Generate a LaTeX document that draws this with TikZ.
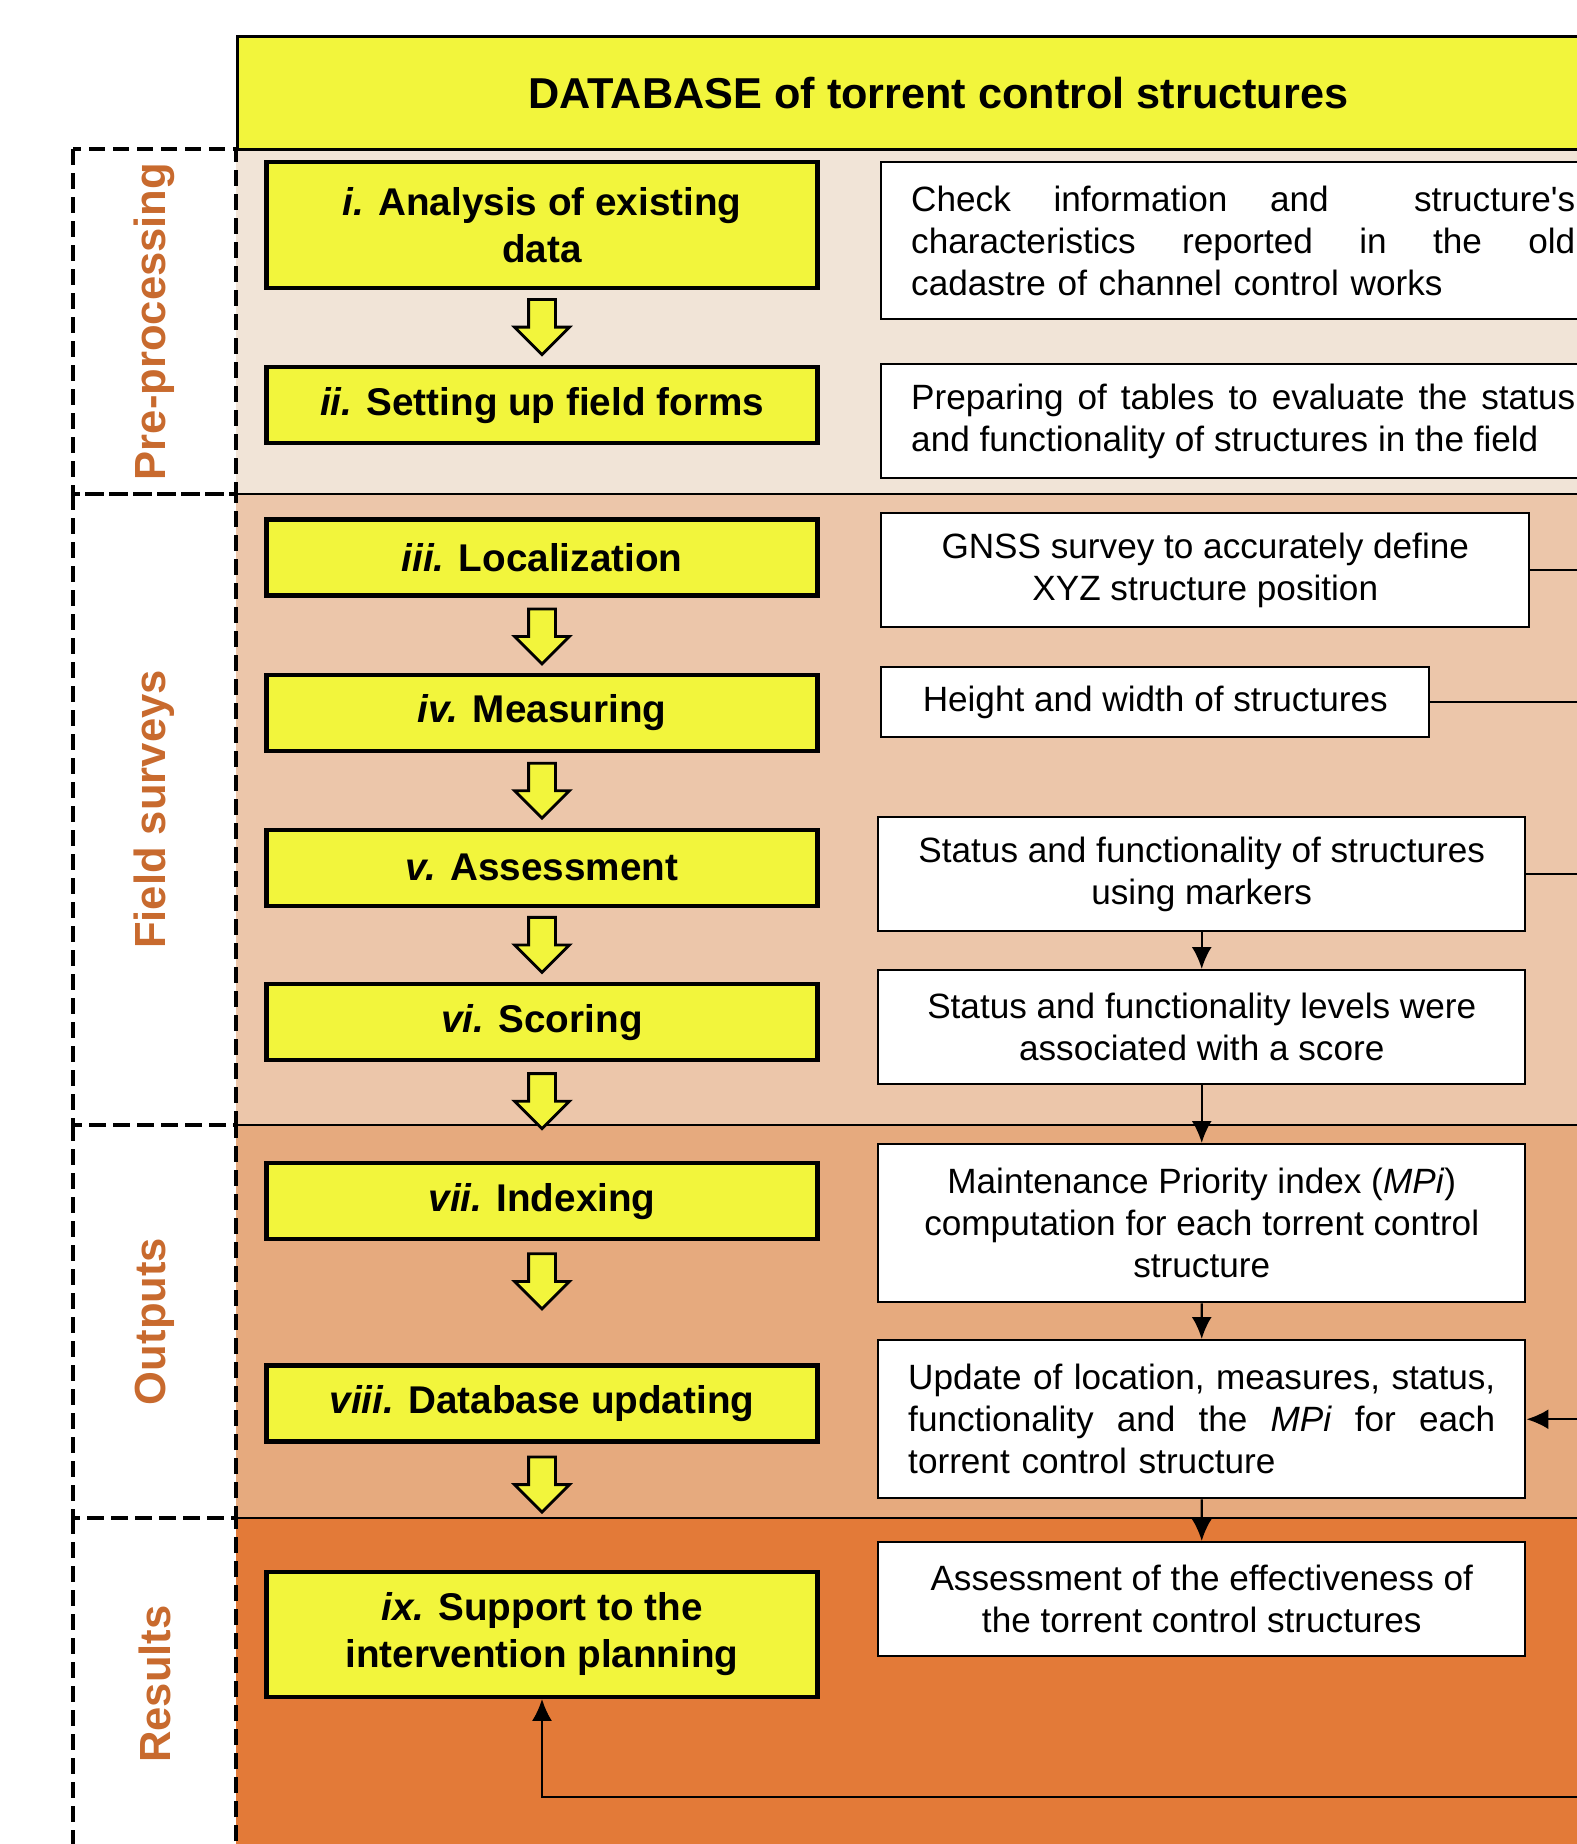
\documentclass[tikz,border=0pt]{standalone}
\usepackage{fontspec}
\setmainfont{Liberation Sans}
\usetikzlibrary{arrows.meta, positioning, shapes.arrows}

\definecolor{boxyellow}{RGB}{242,245,60}
\definecolor{preproc}{RGB}{241,228,215}
\definecolor{fieldsurv}{RGB}{236,198,170}
\definecolor{outputs}{RGB}{230,170,126}
\definecolor{results}{RGB}{227,122,56}
\definecolor{phasetext}{RGB}{200,106,46}

\begin{document}
\begin{tikzpicture}[
    ->, >={Latex[length=2.2mm,width=2mm]}, line width=0.7pt, node distance=0.75cm,
    stepbox/.style={draw, line width=1.2pt, fill=boxyellow, minimum width=5.51cm, minimum height=0.76cm, align=center, inner sep=2pt, font=\fontsize{11}{13.3}\selectfont\bfseries},
    infobox/.style={draw, line width=0.7pt, fill=white, anchor=north west, align=center, inner sep=2pt, font=\fontsize{10}{12}\selectfont},
    phasebox/.style={draw, dash pattern=on 0.16cm off 0.08cm, line width=1pt, rotate=90, minimum height=1.63cm, outer sep=0pt, text=phasetext, font=\fontsize{12.4}{14}\selectfont\bfseries},
    flowarrow/.style={single arrow, draw, line width=0.8pt, fill=boxyellow, shape border rotate=270, minimum height=0.55cm, minimum width=0.54cm, single arrow head extend=0.14cm, inner sep=0.12cm}
]
\useasboundingbox (0,0) rectangle (15.77,-18.44);
\clip (0,0) rectangle (15.77,-18.44);

\fill[preproc] (2.36,-1.48) rectangle (16.5,-4.94);
\fill[fieldsurv] (2.36,-4.94) rectangle (16.5,-11.25);
\fill[outputs] (2.36,-11.25) rectangle (16.5,-15.18);
\fill[results] (2.36,-15.18) rectangle (16.5,-18.6);
\draw[-] (2.36,-4.94) -- (16.5,-4.94);
\draw[-] (2.36,-11.25) -- (16.5,-11.25);
\draw[-] (2.36,-15.18) -- (16.5,-15.18);

\node (preprocessing) [phasebox, minimum width=3.45cm] at (1.545,-3.215) {Pre-processing};
\node (fieldsurveys) [phasebox, minimum width=6.31cm] at (1.545,-8.095) {Field surveys};
\node (outputsphase) [phasebox, minimum width=3.93cm] at (1.545,-13.215) {Outputs};
\node (resultsphase) [phasebox, minimum width=3.32cm] at (1.545,-16.84) {Results};

\node (database) [draw, line width=0.8pt, fill=boxyellow, anchor=north west, minimum width=14.02cm, minimum height=1.13cm, font=\fontsize{12.3}{14}\selectfont\bfseries] at (2.36,-0.35) {DATABASE of torrent control structures};

\node (analysis) [stepbox, minimum height=1.26cm] at (5.42,-2.25) {\textit{i.} Analysis of existing\\ data};
\node (forms) [stepbox, below=0.75cm of analysis] {\textit{ii.} Setting up field forms};
\node (localization) [stepbox, below=0.72cm of forms] {\textit{iii.} Localization};
\node (measuring) [stepbox, below=0.75cm of localization] {\textit{iv.} Measuring};
\node (assessment) [stepbox, below=0.75cm of measuring] {\textit{v.} Assessment};
\node (scoring) [stepbox, below=0.74cm of assessment] {\textit{vi.} Scoring};
\node (indexing) [stepbox, below=0.99cm of scoring] {\textit{vii.} Indexing};
\node (updating) [stepbox, below=1.22cm of indexing] {\textit{viii.} Database updating};
\node (support) [stepbox, minimum height=1.25cm, below=1.26cm of updating] {\textit{ix.} Support to the\\ intervention planning};

\node (arrow_analysis) [flowarrow, below=0.08cm of analysis] {};
\node (arrow_localization) [flowarrow, below=0.1cm of localization] {};
\node (arrow_measuring) [flowarrow, below=0.09cm of measuring] {};
\node (arrow_assessment) [flowarrow, below=0.08cm of assessment] {};
\node (arrow_scoring) [flowarrow, below=0.1cm of scoring] {};
\node (arrow_indexing) [flowarrow, below=0.11cm of indexing] {};
\node (arrow_updating) [flowarrow, below=0.12cm of updating] {};

\node (check_info) [infobox, align=left, inner xsep=0.3cm, text width=6.64cm, minimum height=1.57cm] at (8.80,-1.61) {\makebox[6.64cm][l]{Check\hfill information\hfill and\hfill\hfill structure\textquotesingle s}\\ \makebox[6.64cm][l]{characteristics\hfill reported\hfill in\hfill the\hfill old}\\ cadastre of channel control works};
\node (tables) [infobox, align=justify, inner xsep=0.3cm, text width=6.64cm, minimum height=1.14cm] at (8.80,-3.63) {Preparing of tables to evaluate the status and functionality of structures in the field};
\node (gnss) [infobox, minimum width=6.48cm, minimum height=1.14cm] at (8.80,-5.12) {GNSS survey to accurately define\\ XYZ structure position};
\node (dimensions) [infobox, minimum width=5.48cm, minimum height=0.70cm] at (8.80,-6.66) {Height and width of structures};
\node (markers) [infobox, minimum width=6.47cm, minimum height=1.14cm] at (8.77,-8.16) {Status and functionality of structures\\ using markers};
\node (score) [infobox, minimum width=6.47cm, minimum height=1.14cm] at (8.77,-9.69) {Status and functionality levels were\\ associated with a score};
\node (mpi) [infobox, minimum width=6.47cm, minimum height=1.58cm] at (8.77,-11.43) {Maintenance Priority index (\textit{MPi})\\ computation for each torrent control\\ structure};
\node (update) [infobox, align=left, inner xsep=0.3cm, text width=5.87cm, minimum height=1.58cm] at (8.77,-13.39) {\makebox[5.87cm][l]{Update\hfill of\hfill location,\hfill measures,\hfill status,}\\ \makebox[5.87cm][l]{functionality\hfill and\hfill the\hfill \textit{MPi}\hfill for\hfill each}\\ torrent control structure};
\node (effectiveness) [infobox, minimum width=6.47cm, minimum height=1.14cm] at (8.77,-15.41) {Assessment of the effectiveness of\\ the torrent control structures};

\coordinate (rail) at (16.2,0);
\coordinate (loop) at (16.2,-17.97);

\draw[->] (markers) -- (score);
\draw[->] (score) -- (mpi);
\draw[->] (mpi) -- (update);
\draw[->] (update) -- (effectiveness);
\draw[-] (gnss.east) -- (gnss.east -| rail);
\draw[-] (dimensions.east) -- (dimensions.east -| rail);
\draw[-] (markers.east) -- (markers.east -| rail);
\draw[->] (update.east -| rail) -- (update.east);
\draw[->] (loop) -| (support.south);
\end{tikzpicture}
\end{document}
